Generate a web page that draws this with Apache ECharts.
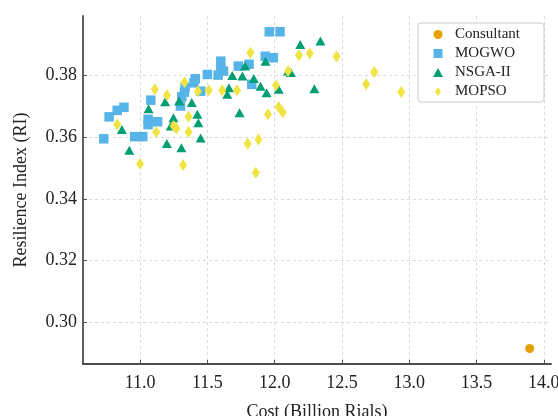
<!DOCTYPE html>
<html>
<head>
<meta charset="utf-8">
<script src="https://cdn.jsdelivr.net/npm/echarts@6/dist/echarts.min.js"></script>
<style>
  html, body { margin: 0; padding: 0; background: #fff; }
  #main { width: 558px; height: 416px; }
</style>
</head>
<body>
<div id="main"></div>
<script>
// values
var consultantCost = [13.895];
var consultantRI = [0.2916];

var mogwoCost = [10.73, 10.77, 10.83, 10.88, 10.96, 11.02, 11.08, 11.06, 11.06, 11.13,
                 11.30, 11.31, 11.33, 11.335, 11.40, 11.41, 11.45, 11.50, 11.58, 11.60,
                 11.60, 11.62, 11.73, 11.81, 11.83, 11.93, 11.99, 11.96, 12.04];
var mogwoRI = [0.3594, 0.3665, 0.3686, 0.3696, 0.3601, 0.3601, 0.3719, 0.3657, 0.3640, 0.3649,
               0.3700, 0.3730, 0.3745, 0.3760, 0.3775, 0.3788, 0.3748, 0.3802, 0.3800, 0.3845,
               0.3823, 0.3813, 0.3829, 0.3835, 0.3770, 0.3861, 0.3856, 0.3940, 0.3940];

var nsgaCost = [10.865, 10.92, 11.063, 11.186, 11.248, 11.228, 11.199, 11.29, 11.307, 11.384,
                11.426, 11.433, 11.45, 11.66, 11.648, 11.685, 11.739, 11.76, 11.78, 11.845,
                11.895, 11.932, 11.94, 12.03, 12.10, 12.12, 12.19, 12.34, 12.295];
var nsgaRI = [0.3624, 0.3557, 0.3691, 0.3714, 0.3662, 0.3635, 0.3579, 0.3716, 0.3565, 0.3711,
              0.3673, 0.3646, 0.3597, 0.3759, 0.3738, 0.3799, 0.3678, 0.3797, 0.3829, 0.3789,
              0.3764, 0.3845, 0.3743, 0.3754, 0.3813, 0.3808, 0.3899, 0.3910, 0.3756];

var mopsoCost = [10.83, 11.00, 11.11, 11.12, 11.20, 11.25, 11.27, 11.32, 11.33, 11.36,
                 11.36, 11.43, 11.51, 11.61, 11.72, 11.82, 11.80, 11.86, 11.88, 11.95,
                 12.01, 12.03, 12.06, 12.10, 12.18, 12.26, 12.46, 12.74, 12.68, 12.94];
var mopsoRI = [0.3640, 0.3513, 0.3754, 0.3616, 0.3735, 0.3635, 0.3627, 0.3509, 0.3777, 0.3665,
               0.3616, 0.3748, 0.3751, 0.3751, 0.3751, 0.3872, 0.3578, 0.3484, 0.3592, 0.3673,
               0.3767, 0.3697, 0.3680, 0.3813, 0.3864, 0.3870, 0.3860, 0.3810, 0.3770, 0.3745];

var xTicks = [11.0, 11.5, 12.0, 12.5, 13.0, 13.5, 14.0];
var yTicks = [0.30, 0.32, 0.34, 0.36, 0.38];

function pairs(xs, ys) {
    var out = [];
    for (var i = 0; i < xs.length; i++) {
        out.push([xs[i], ys[i]]);
    }
    return out;
}

var myChart = echarts.init(document.getElementById('main'));
var serif = "'Liberation Serif', 'DejaVu Serif', serif";
var axisColor = '#4d4d4d';
// legend icons as paths so they keep their shape
var iconCircle = 'path://M5,0A5,5,0,1,1,4.99,0Z';
var iconSquare = 'path://M0,0H9V9H0Z';
var iconTriangle = 'path://M5,0L10,9L0,9Z';
var iconDiamond = 'path://M0,-5L3.4,0L0,5L-3.4,0Z';

var option = {
    animation: false,
    backgroundColor: '#fff',
    grid: { left: 83, right: 7, top: 16, bottom: 52, outerBoundsMode: 'none' },
    legend: {
        orient: 'vertical',
        left: 418,
        top: 23,
        padding: [4, 24, 3, 15],
        itemWidth: 24,
        itemHeight: 9,
        itemGap: 4,
        borderColor: '#cccccc',
        borderWidth: 1,
        borderRadius: 3,
        backgroundColor: '#fff',
        textStyle: { fontFamily: serif, fontSize: 15, lineHeight: 15, color: '#222' },
        data: [
            { name: 'Consultant', icon: iconCircle },
            { name: 'MOGWO', icon: iconSquare },
            { name: 'NSGA-II', icon: iconTriangle },
            { name: 'MOPSO', icon: iconDiamond }
        ]
    },
    xAxis: {
        type: 'value',
        min: 10.576,
        max: 14.053,
        name: 'Cost (Billion Rials)',
        nameLocation: 'middle',
        nameGap: 39,
        nameTextStyle: { fontFamily: serif, fontSize: 18, color: '#222' },
        axisLine: { lineStyle: { color: axisColor, width: 1.8 } },
        axisTick: { inside: true, length: 4, customValues: xTicks, lineStyle: { color: axisColor, width: 1 } },
        axisLabel: {
            customValues: xTicks,
            margin: 10,
            fontFamily: serif, fontSize: 18, color: '#222',
            formatter: function (v) { return v.toFixed(1); }
        },
        splitLine: { show: true, lineStyle: { color: '#d0d0d0', type: [3, 3], width: 0.8 } }
    },
    yAxis: {
        type: 'value',
        min: 0.2866,
        max: 0.3991,
        name: 'Resilience Index (RI)',
        nameLocation: 'middle',
        nameGap: 53,
        nameTextStyle: { fontFamily: serif, fontSize: 18, color: '#222' },
        axisLine: { show: true, lineStyle: { color: axisColor, width: 1.8 } },
        axisTick: { show: true, inside: true, length: 4, customValues: yTicks, lineStyle: { color: axisColor, width: 1 } },
        axisLabel: {
            customValues: yTicks,
            margin: 6,
            fontFamily: serif, fontSize: 18, color: '#222',
            formatter: function (v) { return v.toFixed(2); }
        },
        splitLine: { show: true, lineStyle: { color: '#d0d0d0', type: [3, 3], width: 0.8 } }
    },
    series: [
        {
            name: 'Consultant',
            type: 'scatter',
            symbol: 'circle',
            symbolSize: 9,
            itemStyle: { color: '#E69F00', opacity: 1 },
            data: pairs(consultantCost, consultantRI)
        },
        {
            name: 'MOGWO',
            type: 'scatter',
            symbol: 'rect',
            symbolSize: 9.5,
            itemStyle: { color: '#56B4E9', opacity: 1 },
            data: pairs(mogwoCost, mogwoRI)
        },
        {
            name: 'NSGA-II',
            type: 'scatter',
            symbol: 'triangle',
            symbolSize: [10, 9],
            itemStyle: { color: '#009E73', opacity: 1 },
            data: pairs(nsgaCost, nsgaRI)
        },
        {
            name: 'MOPSO',
            type: 'scatter',
            symbol: 'diamond',
            symbolSize: [8, 12],
            itemStyle: { color: '#F0E442', opacity: 1 },
            data: pairs(mopsoCost, mopsoRI)
        }
    ]
};

myChart.setOption(option);
</script>
</body>
</html>
